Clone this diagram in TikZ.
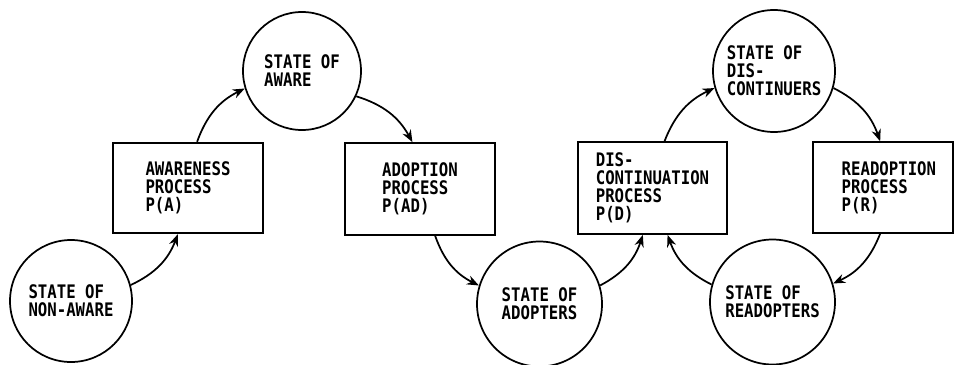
\documentclass[tikz,border=0pt]{standalone}
\usepackage{fontspec}
\newfontfamily\diagfont[FakeStretch=0.84]{DejaVu Sans Mono Bold}
\usetikzlibrary{arrows.meta,calc}
\begin{document}
\begin{tikzpicture}[x=0.75pt,y=-0.75pt,
  every node/.style={font=\diagfont\fontsize{14}{13.5}\selectfont, align=left, inner sep=0pt},
  statenode/.style={draw, circle, line width=1.3pt},
  procbox/.style={draw, rectangle, line width=1.3pt, minimum height=68pt},
  flow/.style={line width=1.3pt, -{Stealth[length=9pt,width=7pt]}}]
\useasboundingbox (0,0) rectangle (955,364);
% states
\node[statenode, minimum size=91.5pt] (c1) at (71,301) {STATE OF\\NON-AWARE};
\node[statenode, minimum size=88.5pt] (c2) at (302,71) {STATE OF\\AWARE};
\node[statenode, minimum size=93.75pt] (c3) at (539.5,304) {STATE OF\\ADOPTERS};
\node[statenode, minimum size=91.5pt] (c4) at (774,71) {STATE OF\\DIS-\\CONTINUERS};
\node[statenode, minimum size=93.75pt] (c5) at (772.5,302) {STATE OF\\READOPTERS};
% processes
\node[procbox, minimum width=112.5pt] (b1) at (188,188) {AWARENESS\\PROCESS\\P(A)};
\node[procbox, minimum width=112.5pt, minimum height=69pt] (b2) at (420,189) {ADOPTION\\PROCESS\\P(AD)};
\node[procbox, minimum width=111.75pt, minimum height=69pt] (b3) at (652.5,188) {DIS-\\CONTINUATION\\PROCESS\\P(D)};
\node[procbox, minimum width=105pt, text width=62pt, align=left] (b4) at (883,187.5) {READOPTION\\PROCESS\\P(R)};
% flows
\draw[flow] (c1.15) to[bend right=22] ($(b1.south west)!0.433!(b1.south east)$);
\draw[flow] ($(b1.north west)!0.56!(b1.north east)$) to[bend left=22] (c2.197);
\draw[flow] (c2.-25) to[bend left=22] ($(b2.north west)!0.45!(b2.north east)$);
\draw[flow] ($(b2.south west)!0.6!(b2.south east)$) to[bend right=22] (c3.163);
\draw[flow] (c3.17) to[bend right=22] ($(b3.south west)!0.436!(b3.south east)$);
\draw[flow] ($(b3.north west)!0.58!(b3.north east)$) to[bend left=22] (c4.196);
\draw[flow] (c4.-16) to[bend left=22] ($(b4.north west)!0.48!(b4.north east)$);
\draw[flow] ($(b4.south west)!0.48!(b4.south east)$) to[bend left=22] (c5.17);
\draw[flow] (c5.164) to[bend left=22] ($(b3.south west)!0.6!(b3.south east)$);
\end{tikzpicture}
\end{document}
